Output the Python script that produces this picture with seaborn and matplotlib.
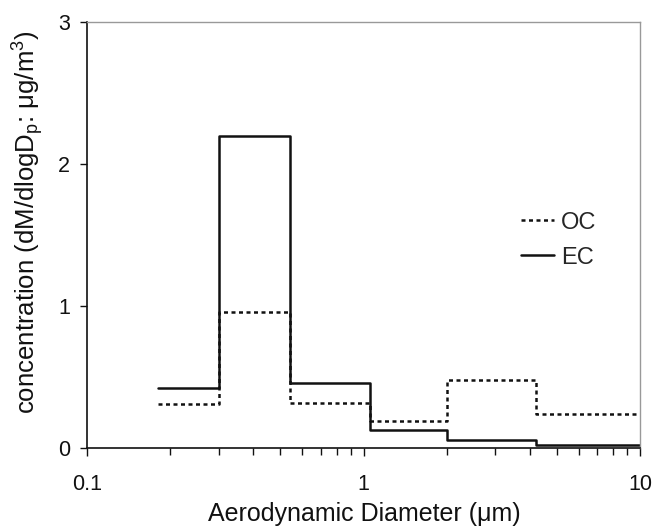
import matplotlib
matplotlib.use("Agg")
import matplotlib.pyplot as plt
import seaborn as sns
import pandas as pd
from matplotlib.ticker import FixedLocator, FixedFormatter, LogLocator, NullFormatter
from matplotlib.lines import Line2D

# Data
bin_edges = [0.18, 0.30, 0.54, 1.06, 2.0, 4.2, 10.0]
oc_values = [0.31, 0.96, 0.32, 0.19, 0.48, 0.24]
ec_values = [0.42, 2.20, 0.46, 0.13, 0.056, 0.02]
series_names = ["OC", "EC"]
x_tick_values = [0.1, 1, 10]
x_tick_labels = ["0.1", "1", "10"]
y_tick_values = [0, 1, 2, 3]

sns.set_theme(style="white")
plt.rcParams['font.family'] = ['Liberation Sans', 'DejaVu Sans']
plt.rcParams['mathtext.fontset'] = 'custom'
plt.rcParams['mathtext.rm'] = 'Liberation Sans'
plt.rcParams['mathtext.it'] = 'Liberation Sans'

rows = []
for name, vals in zip(series_names, [oc_values, ec_values]):
    ys = list(vals) + [vals[-1]]
    for x, y in zip(bin_edges, ys):
        rows.append({"x": x, "y": y, "series": name})
df = pd.DataFrame(rows)

LW = 1.8
DASH = (1.6, 1.4)
L, R, T, B = 87, 640, 22, 448
fig = plt.figure(figsize=(6.56, 5.28), dpi=100)
ax = fig.add_axes([L/656, 1 - B/528, (R-L)/656, (B-T)/528])

sns.lineplot(data=df, x="x", y="y", hue="series", style="series",
             palette={"OC": "#111111", "EC": "#111111"},
             dashes={"OC": DASH, "EC": ""},
             drawstyle="steps-post", linewidth=LW, ax=ax, legend=False,
             estimator=None, sort=False)

ax.set_xscale("log")
ax.set_xlim(0.1, 10)
ax.set_ylim(0, 3)
ax.xaxis.set_major_locator(FixedLocator(x_tick_values))
ax.xaxis.set_major_formatter(FixedFormatter(x_tick_labels))
ax.xaxis.set_minor_locator(LogLocator(base=10, subs=[2, 3, 4, 5, 6, 7, 8, 9]))
ax.xaxis.set_minor_formatter(NullFormatter())
ax.set_yticks(y_tick_values)
ax.set_yticklabels([str(v) for v in y_tick_values])

ax.tick_params(axis="both", which="major", direction="out", width=1,
               color="#111111", labelsize=15.5, labelcolor="#111111")
ax.tick_params(axis="x", which="major", length=6, pad=13, bottom=True)
ax.tick_params(axis="y", which="major", length=5, pad=7, left=True)
ax.tick_params(axis="x", which="minor", direction="out", length=5, width=1,
               color="#111111", bottom=True)

for side in ["left", "bottom"]:
    ax.spines[side].set_color("#111111")
    ax.spines[side].set_linewidth(1.2)
for side in ["top", "right"]:
    ax.spines[side].set_color("#999999")
    ax.spines[side].set_linewidth(1.0)

ax.set_xlabel("Aerodynamic Diameter (\u03bcm)", fontsize=18, color="#111111")
ax.xaxis.set_label_coords(0.502, (B - 502) / (B - T))
ax.set_ylabel("concentration (dM/dlogD$_{\\mathrm{p}}$: \u03bcg/m$^{3}$)", fontsize=18.5,
              color="#111111")
ax.yaxis.set_label_coords((46 - L) / (R - L), (B - 222) / (B - T))

handles = [Line2D([0], [0], color="#111111", lw=LW, dashes=DASH),
           Line2D([0], [0], color="#111111", lw=LW)]
ax.legend(handles, series_names, loc="center left", bbox_to_anchor=(0.784, 0.488),
          frameon=False, fontsize=17, handlelength=1.4, handletextpad=0.3,
          labelspacing=0.56, borderpad=0, borderaxespad=0)

fig.savefig("out.png", dpi=100, facecolor="white")
